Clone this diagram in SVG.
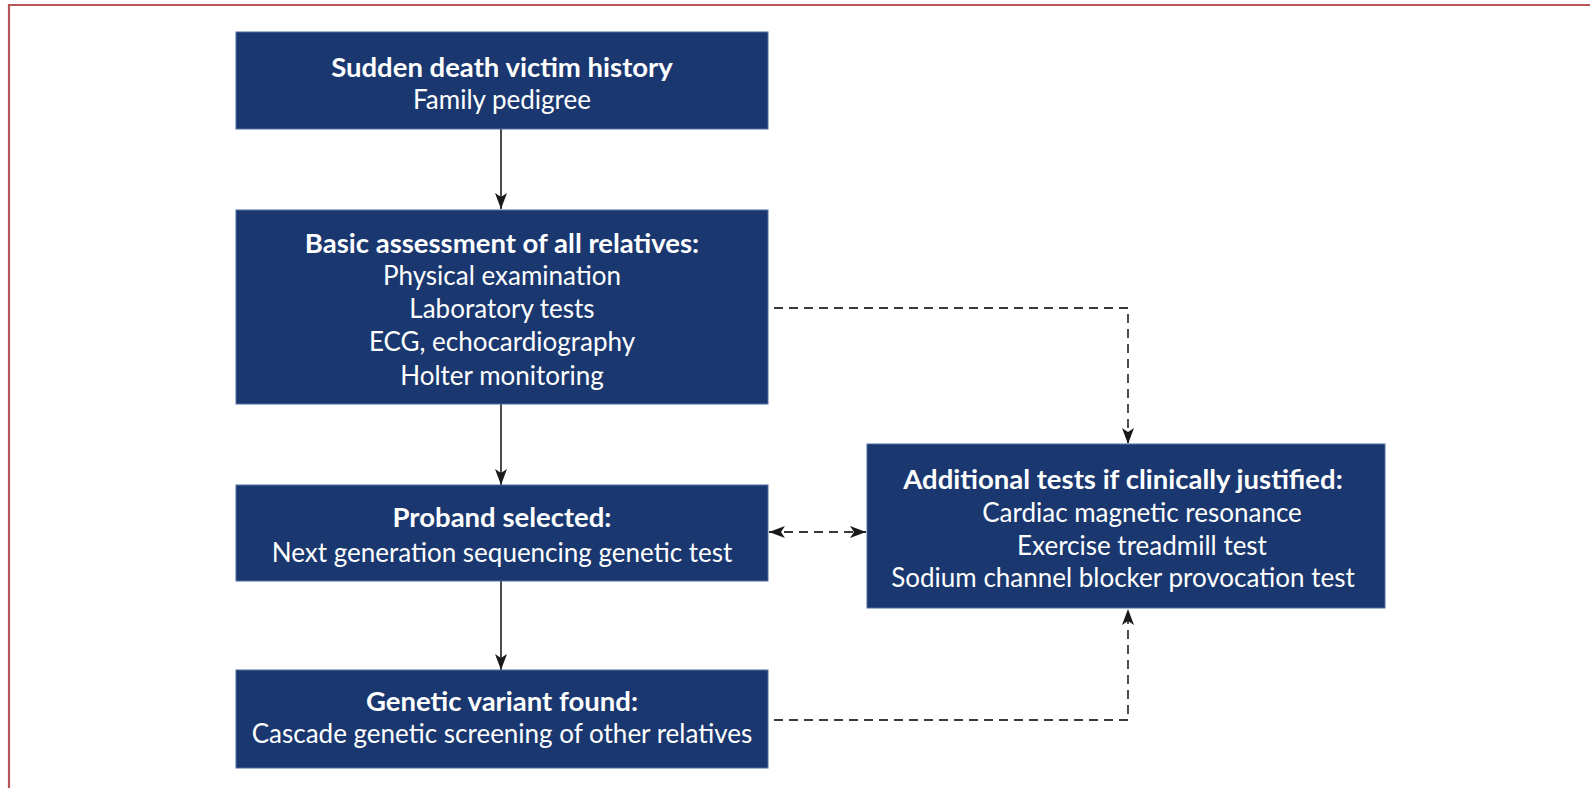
<svg xmlns="http://www.w3.org/2000/svg" width="1590" height="788" viewBox="0 0 1590 788">
<defs>
<style>
.box{fill:#1a386f;stroke:#4f6fa3;stroke-width:1}
.t{font-family:Lato,"Open Sans","Liberation Sans",sans-serif;font-size:26px;fill:#ffffff;text-anchor:middle}
.b{font-weight:bold;font-size:27.5px}
.solid{stroke:#2b2b2b;stroke-width:1.7;fill:none}
.dash{stroke:#3a3a3a;stroke-width:1.8;fill:none;stroke-dasharray:9 6}
</style>
<marker id="ah2" viewBox="0 0 16 12" refX="16" refY="6" markerWidth="16" markerHeight="12" markerUnits="userSpaceOnUse" orient="auto-start-reverse">
<path d="M0,0 L16,6 L0,12 L4,6 Z" fill="#1a1a1a"/>
</marker>
</defs>
<rect x="0" y="0" width="1590" height="788" fill="#ffffff"/>
<path d="M9,788 L9,5 L1590,5" fill="none" stroke="#b9545a" stroke-width="2.2"/>

<g id="connectors">
<line class="solid" x1="501" y1="129" x2="501" y2="209" marker-end="url(#ah2)"/>
<line class="solid" x1="501" y1="404" x2="501" y2="485" marker-end="url(#ah2)"/>
<line class="solid" x1="501" y1="581" x2="501" y2="670" marker-end="url(#ah2)"/>
<polyline class="dash" points="774,308 1128,308 1128,444" marker-end="url(#ah2)"/>
<line class="dash" x1="769" y1="532" x2="866" y2="532" marker-start="url(#ah2)" marker-end="url(#ah2)"/>
<polyline class="dash" points="774,720 1128,720 1128,609" marker-end="url(#ah2)"/>
</g>

<g id="n1">
<rect class="box" x="236" y="32" width="532" height="97"/>
<text class="t b" x="502" y="77">Sudden death victim history</text>
<text class="t" x="502" y="109">Family pedigree</text>
</g>

<g id="n2">
<rect class="box" x="236" y="210" width="532" height="194"/>
<text class="t b" x="502" y="253">Basic assessment of all relatives:</text>
<text class="t" x="502" y="285">Physical examination</text>
<text class="t" x="502" y="318">Laboratory tests</text>
<text class="t" x="502" y="351">ECG, echocardiography</text>
<text class="t" x="502" y="385">Holter monitoring</text>
</g>

<g id="n3">
<rect class="box" x="236" y="485" width="532" height="96"/>
<text class="t b" x="502" y="527">Proband selected:</text>
<text class="t" x="502" y="562">Next generation sequencing genetic test</text>
</g>

<g id="n4">
<rect class="box" x="236" y="670" width="532" height="98"/>
<text class="t b" x="502" y="711">Genetic variant found:</text>
<text class="t" x="502" y="743">Cascade genetic screening of other relatives</text>
</g>

<g id="n5">
<rect class="box" x="867" y="444" width="518" height="164"/>
<text class="t b" x="1123" y="489">Additional tests if clinically justified:</text>
<text class="t" x="1142" y="522">Cardiac magnetic resonance</text>
<text class="t" x="1142" y="555">Exercise treadmill test</text>
<text class="t" x="1123" y="587">Sodium channel blocker provocation test</text>
</g>
</svg>
